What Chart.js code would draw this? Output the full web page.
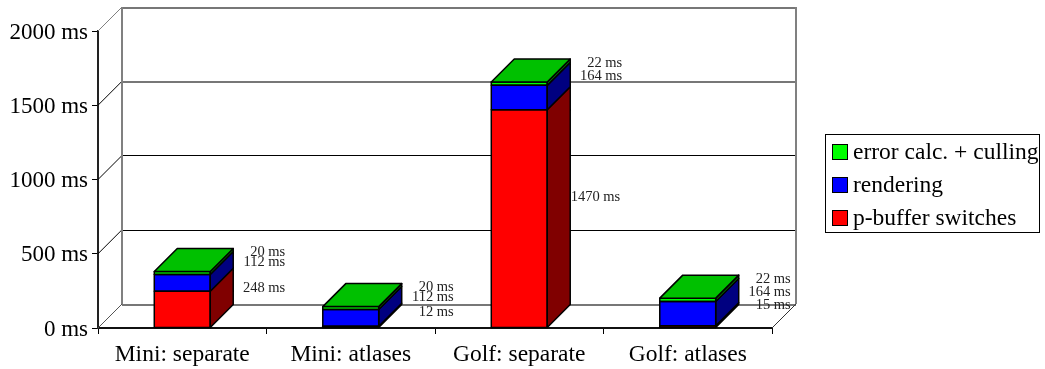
<!DOCTYPE html>
<html>
<head>
<meta charset="utf-8">
<title>Render times</title>
<script src="https://cdn.jsdelivr.net/npm/chart.js"></script>
<style>
  html, body { margin: 0; padding: 0; background: #fff; }
  canvas { display: block; }
</style>
</head>
<body>
<canvas id="myChart" width="1045" height="369"></canvas>
<script>
// Chart values, in ms
var categories = ["Mini: separate", "Mini: atlases", "Golf: separate", "Golf: atlases"];
var pbufferSwitches = [248, 12, 1470, 15];
var rendering = [112, 112, 164, 164];
var errorCalc = [20, 20, 22, 22];
var yTicks = [0, 500, 1000, 1500, 2000];

var serif = "'Liberation Serif', serif";
var wallDepth = 24;
var barDepth = 23;
var sideColors = ["#800000", "#000080", "#008000"];

// back wall, left wall and floor of the fake 3D box
var wallsPlugin = {
  id: "walls",
  beforeDatasetsDraw: function (chart) {
    var ctx = chart.ctx;
    var area = chart.chartArea;
    var y = chart.scales.y;
    ctx.save();
    yTicks.forEach(function (value) {
      var py = y.getPixelForValue(value);
      var back = py - wallDepth;
      var heavy = value === 0 || value >= 1500;
      ctx.strokeStyle = heavy ? "#777777" : "#000000";
      ctx.lineWidth = heavy ? 2 : 1;
      back = heavy ? Math.floor(back) + 1 : Math.round(back - 0.1) + 0.5;
      ctx.beginPath();
      ctx.moveTo(area.left + wallDepth, back);
      ctx.lineTo(area.right + wallDepth, back);
      ctx.stroke();
      ctx.lineWidth = 1;
      ctx.strokeStyle = value === 2000 ? "#808080" : value === 0 ? "#555555" : "#000000";
      ctx.beginPath();
      ctx.moveTo(area.left, py);
      ctx.lineTo(area.left + wallDepth, py - wallDepth);
      ctx.stroke();
    });
    var top = y.getPixelForValue(2000) - wallDepth;
    var floor = y.getPixelForValue(0) - wallDepth;
    ctx.strokeStyle = "#808080";
    ctx.lineWidth = 2;
    ctx.beginPath();
    ctx.moveTo(area.left + wallDepth, top);
    ctx.lineTo(area.left + wallDepth, floor);
    ctx.moveTo(area.right + wallDepth, top);
    ctx.lineTo(area.right + wallDepth, floor);
    ctx.stroke();
    ctx.lineWidth = 1;
    ctx.strokeStyle = "#333333";
    ctx.beginPath();
    ctx.moveTo(area.right + wallDepth, floor);
    ctx.lineTo(area.right, floor + wallDepth);
    ctx.stroke();
    ctx.restore();
  }
};

function polygon(ctx, points, fill) {
  ctx.fillStyle = fill;
  ctx.beginPath();
  points.forEach(function (p, i) {
    if (i === 0) ctx.moveTo(p[0], p[1]);
    else ctx.lineTo(p[0], p[1]);
  });
  ctx.closePath();
  ctx.fill();
  ctx.stroke();
}

// sides and tops of the bars, then the value labels next to them
var boxesPlugin = {
  id: "boxes",
  afterDatasetsDraw: function (chart) {
    var ctx = chart.ctx;
    var last = chart.data.datasets.length - 1;
    ctx.save();
    ctx.strokeStyle = "#000";
    ctx.lineWidth = 1.5;
    ctx.lineJoin = "round";
    chart.data.datasets.forEach(function (ds, d) {
      chart.getDatasetMeta(d).data.forEach(function (bar) {
        var left = bar.x - bar.width / 2;
        var right = bar.x + bar.width / 2;
        polygon(ctx, [[right, bar.y], [right + barDepth, bar.y - barDepth],
          [right + barDepth, bar.base - barDepth], [right, bar.base]], sideColors[d]);
        // front outline sits on the segment edge, so thin segments keep some colour
        ctx.strokeRect(left, bar.y, bar.width, bar.base - bar.y);
        if (d === last) {
          polygon(ctx, [[left, bar.y], [left + barDepth, bar.y - barDepth],
            [right + barDepth, bar.y - barDepth], [right, bar.y]], "#00c000");
        }
      });
    });
    ctx.fillStyle = "#222";
    ctx.font = "14.5px " + serif;
    ctx.textAlign = "right";
    ctx.textBaseline = "middle";
    chart.data.datasets.forEach(function (ds, d) {
      chart.getDatasetMeta(d).data.forEach(function (bar, i) {
        var right = bar.x + bar.width / 2;
        var mid = (bar.y + bar.base) / 2 - wallDepth + 3;
        // these two sit off their usual spot in the original
        if (ds.data[i] === 12) mid += 6;
        var shift = ds.data[i] === 1470 ? 73 : 75;
        ctx.fillText(ds.data[i] + " ms", right + shift, mid);
      });
    });
    ctx.restore();
  }
};

// legend box, newest series on top
var legendPlugin = {
  id: "boxLegend",
  afterDraw: function (chart) {
    var ctx = chart.ctx;
    var items = chart.data.datasets.slice().reverse();
    ctx.save();
    ctx.strokeStyle = "#000";
    ctx.lineWidth = 1;
    ctx.strokeRect(825.5, 134.5, 214, 98);
    ctx.font = "23.5px " + serif;
    ctx.textAlign = "left";
    ctx.textBaseline = "middle";
    items.forEach(function (ds, i) {
      var rowY = 152 + i * 33;
      ctx.fillStyle = ds.backgroundColor;
      ctx.fillRect(832.5, rowY - 7.5, 15, 15);
      ctx.strokeRect(832.5, rowY - 7.5, 15, 15);
      ctx.fillStyle = "#000";
      ctx.fillText(ds.label, 853, rowY + 1);
    });
    ctx.restore();
  }
};

function series(label, data, color) {
  return { label: label, data: data, backgroundColor: color, borderWidth: 0 };
}

var chart = new Chart(document.getElementById("myChart"), {
  type: "bar",
  data: {
    labels: categories,
    datasets: [
      series("p-buffer switches", pbufferSwitches, "#ff0000"),
      series("rendering", rendering, "#0000ff"),
      series("error calc. + culling", errorCalc, "#00ff00")
    ]
  },
  plugins: [wallsPlugin, boxesPlugin, legendPlugin],
  options: {
    responsive: false,
    animation: false,
    layout: { padding: { left: 0, top: 31, right: 273, bottom: 0 } },
    plugins: { legend: { display: false }, tooltip: { enabled: false } },
    datasets: { bar: { categoryPercentage: 1, barPercentage: 0.332 } },
    scales: {
      x: {
        stacked: true,
        afterFit: function (scale) { scale.height = 41; },
        border: { color: "#111", width: 2 },
        grid: { offset: true, drawOnChartArea: false, color: "#000", tickLength: 6 },
        ticks: { color: "#000", font: { family: serif, size: 23.5 }, padding: 7, maxRotation: 0 }
      },
      y: {
        stacked: true,
        min: 0,
        max: 2000,
        afterFit: function (scale) { scale.width = 98; },
        border: { color: "#222", width: 2 },
        grid: { drawOnChartArea: false, color: "#000", tickLength: 6 },
        ticks: {
          stepSize: 500,
          color: "#000",
          padding: 4,
          labelOffset: 1.5,
          font: { family: serif, size: 23 },
          callback: function (value) { return value + " ms"; }
        }
      }
    }
  }
});
</script>
</body>
</html>
